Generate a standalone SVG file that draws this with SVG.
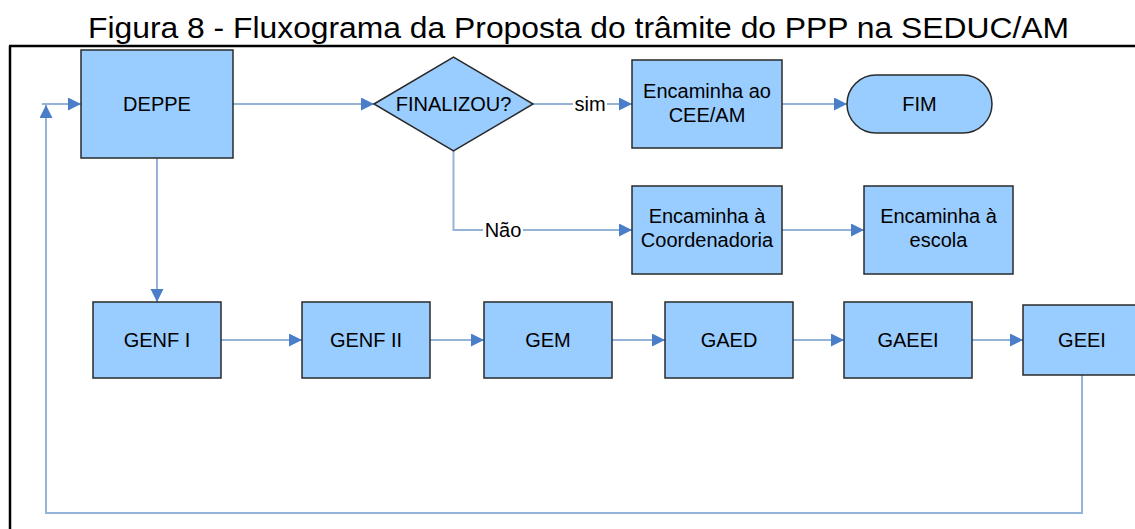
<svg xmlns="http://www.w3.org/2000/svg" width="1135" height="529" viewBox="0 0 1135 529">
<style>
.box{fill:#99CCFF;stroke:#2a2a2a;stroke-width:1.5}
.t{font-family:"Liberation Sans",Arial,sans-serif;font-size:20px;fill:#000;text-anchor:middle}
.c{fill:none;stroke:#95B3D7;stroke-width:2}
.frame{stroke:#000;stroke-width:2.5;fill:none}
</style>
<defs>
<marker id="ah" markerUnits="userSpaceOnUse" markerWidth="14" markerHeight="14" refX="13" refY="6.5" orient="auto">
<path d="M0,0 L13,6.5 L0,13 z" fill="#4A7EC9"/>
</marker>
</defs>
<rect width="1135" height="529" fill="#fff"/>
<text x="88" y="38" font-family="Liberation Sans, Arial, sans-serif" font-size="29" fill="#000" textLength="981" lengthAdjust="spacingAndGlyphs">Figura 8 - Fluxograma da Proposta do trâmite do PPP na SEDUC/AM</text>
<path class="frame" d="M9,46 H1135 M10,46 V529"/>
<g id="connectors">
<path class="c" d="M42,104 H81" marker-end="url(#ah)"/>
<path class="c" d="M233,104 H374" marker-end="url(#ah)"/>
<path class="c" d="M533,104 H632" marker-end="url(#ah)"/>
<path class="c" d="M782,104 H847" marker-end="url(#ah)"/>
<path class="c" d="M453.5,151 V230 H632" marker-end="url(#ah)"/>
<path class="c" d="M782,230 H864" marker-end="url(#ah)"/>
<path class="c" d="M157,158 V302" marker-end="url(#ah)"/>
<path class="c" d="M221,340 H302" marker-end="url(#ah)"/>
<path class="c" d="M430,340 H484" marker-end="url(#ah)"/>
<path class="c" d="M612,340 H665" marker-end="url(#ah)"/>
<path class="c" d="M793,340 H844" marker-end="url(#ah)"/>
<path class="c" d="M972,340 H1023" marker-end="url(#ah)"/>
<path class="c" d="M1082,375 V513 H46 V105" marker-end="url(#ah)"/>
<rect x="573" y="94" width="34" height="20" fill="#fff"/>
<text class="t" x="590" y="111">sim</text>
<rect x="483" y="220" width="40" height="20" fill="#fff"/>
<text class="t" x="503" y="237">Não</text>
</g>
<g id="deppe">
<rect class="box" x="81" y="50" width="152" height="108"/>
<text class="t" x="157" y="111">DEPPE</text>
</g>
<g id="finalizou">
<path class="box" d="M374,104 L453.5,57 L533,104 L453.5,151 Z"/>
<text class="t" x="453.5" y="111">FINALIZOU?</text>
</g>
<g id="encaminha-cee">
<rect class="box" x="632" y="60" width="150" height="88"/>
<text class="t" x="707" y="98">Encaminha ao</text>
<text class="t" x="707" y="122">CEE/AM</text>
</g>
<g id="fim">
<rect class="box" x="847" y="75" width="145" height="58" rx="29" ry="29"/>
<text class="t" x="919.5" y="111">FIM</text>
</g>
<g id="encaminha-coord">
<rect class="box" x="632" y="186" width="150" height="88"/>
<text class="t" x="707" y="223">Encaminha à</text>
<text class="t" x="707" y="247">Coordenadoria</text>
</g>
<g id="encaminha-escola">
<rect class="box" x="864" y="186" width="149" height="88"/>
<text class="t" x="938.5" y="223">Encaminha à</text>
<text class="t" x="938.5" y="247">escola</text>
</g>
<g id="genf1">
<rect class="box" x="93" y="302" width="128" height="76"/>
<text class="t" x="157" y="347">GENF I</text>
</g>
<g id="genf2">
<rect class="box" x="302" y="302" width="128" height="76"/>
<text class="t" x="366" y="347">GENF II</text>
</g>
<g id="gem">
<rect class="box" x="484" y="302" width="128" height="76"/>
<text class="t" x="548" y="347">GEM</text>
</g>
<g id="gaed">
<rect class="box" x="665" y="302" width="128" height="76"/>
<text class="t" x="729" y="347">GAED</text>
</g>
<g id="gaeei">
<rect class="box" x="844" y="302" width="128" height="76"/>
<text class="t" x="908" y="347">GAEEI</text>
</g>
<g id="geei">
<rect class="box" x="1023" y="305" width="118" height="70"/>
<text class="t" x="1082" y="347">GEEI</text>
</g>
</svg>
